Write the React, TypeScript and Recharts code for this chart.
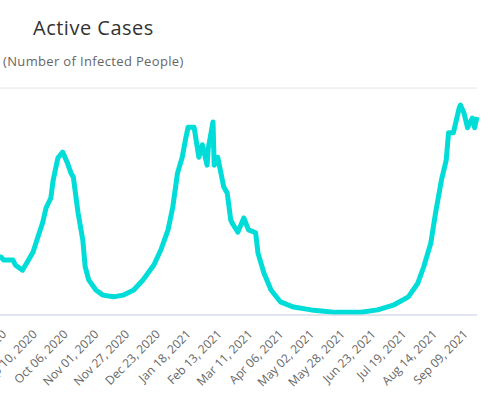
import { LineChart, Line, XAxis, YAxis, CartesianGrid } from "recharts";

const dates = [
  "2020-07-24", "2020-08-01", "2020-08-10", "2020-08-12", "2020-08-20", "2020-08-22", "2020-08-28",
  "2020-09-01", "2020-09-06", "2020-09-10", "2020-09-14", "2020-09-17", "2020-09-21", "2020-09-23",
  "2020-09-27", "2020-10-01", "2020-10-05", "2020-10-08", "2020-10-10", "2020-10-14", "2020-10-18",
  "2020-10-20", "2020-10-23", "2020-10-29", "2020-11-04", "2020-11-13", "2020-11-21", "2020-11-30",
  "2020-12-08", "2020-12-17", "2020-12-23", "2020-12-29", "2021-01-02", "2021-01-06", "2021-01-10",
  "2021-01-13", "2021-01-15", "2021-01-20", "2021-01-24", "2021-01-27", "2021-01-31", "2021-02-01",
  "2021-02-05", "2021-02-06", "2021-02-09", "2021-02-14", "2021-02-17", "2021-02-20", "2021-02-22",
  "2021-02-26", "2021-03-03", "2021-03-07", "2021-03-13", "2021-03-15", "2021-03-20", "2021-03-26",
  "2021-04-03", "2021-04-14", "2021-04-29", "2021-05-18", "2021-06-10", "2021-06-24", "2021-07-08",
  "2021-07-20", "2021-07-28", "2021-08-02", "2021-08-08", "2021-08-12", "2021-08-17", "2021-08-21",
  "2021-08-23", "2021-08-27", "2021-09-01", "2021-09-02", "2021-09-05", "2021-09-08", "2021-09-12",
  "2021-09-14", "2021-09-16",
];

const activeCases = [
  10500, 10600, 10200, 9700, 9700, 8800, 7900,
  9300, 11100, 13700, 16200, 18900, 20600, 23800,
  27700, 28700, 26800, 25000, 24300, 18000, 13200,
  8500, 6200, 4400, 3500, 3200, 3500, 4400,
  6200, 8800, 11500, 15000, 19000, 25000, 27800,
  31200, 33100, 33100, 27800, 30000, 26400, 29400,
  34000, 26400, 27800, 22600, 21500, 16700, 15900,
  14600, 17100, 15000, 14500, 10900, 7400, 4400,
  2300, 1400, 900, 500, 500, 900, 1800,
  3200, 5600, 8500, 12700, 18000, 23800, 27300,
  32100, 32100, 36500, 37000, 35600, 33000, 34700,
  33000, 34900,
];

const tickDates = [
  "2020-08-15", "2020-09-10", "2020-10-06", "2020-11-01", "2020-11-27", "2020-12-23",
  "2021-01-18", "2021-02-13", "2021-03-11", "2021-04-06", "2021-05-02", "2021-05-28",
  "2021-06-23", "2021-07-19", "2021-08-14", "2021-09-09",
];

const yTicks = [0, 10000, 20000, 30000, 40000];

const months = ["Jan", "Feb", "Mar", "Apr", "May", "Jun", "Jul", "Aug", "Sep", "Oct", "Nov", "Dec"];

const toTime = (s: string) => Date.parse(s + "T00:00:00Z");

const formatDate = (t: number) => {
  const d = new Date(t);
  const day = String(d.getUTCDate()).padStart(2, "0");
  return `${months[d.getUTCMonth()]} ${day}, ${d.getUTCFullYear()}`;
};

const data = dates.map((d, i) => ({ t: toTime(d), cases: activeCases[i] }));

const FONT = "'Open Sans', sans-serif";

function DateTick(props: any) {
  const { x, y, payload } = props;
  const ty = y + 12;
  return (
    <text
      x={x}
      y={ty}
      transform={`rotate(-45 ${x} ${ty})`}
      textAnchor="end"
      fill="#666666"
      fontSize={12}
      fontFamily={FONT}
    >
      {formatDate(payload.value)}
    </text>
  );
}

export default function App() {
  return (
    <div
      style={{
        position: "absolute",
        left: 0,
        top: 0,
        width: 500,
        height: 398,
        overflow: "hidden",
        background: "#fff",
        fontFamily: FONT,
      }}
    >
      <div
        style={{
          position: "absolute",
          left: 33,
          top: 18,
          fontSize: 20,
          lineHeight: "20px",
          letterSpacing: 0.5,
          color: "#333333",
          whiteSpace: "nowrap",
        }}
      >
        Active Cases
      </div>
      <div
        style={{
          position: "absolute",
          left: 3,
          top: 55,
          fontSize: 13,
          lineHeight: "13px",
          letterSpacing: 0.35,
          color: "#666666",
          whiteSpace: "nowrap",
        }}
      >
        (Number of Infected People)
      </div>
      <div style={{ position: "absolute", left: -80, top: 0 }}>
        <LineChart
          width={580}
          height={398}
          data={data}
          margin={{ top: 88, right: 23, bottom: 3, left: 0 }}
        >
          <CartesianGrid vertical={false} stroke="#e6e6e6" />
          <XAxis
            dataKey="t"
            type="number"
            scale="time"
            domain={["dataMin", "dataMax"]}
            ticks={tickDates.map(toTime)}
            tick={<DateTick />}
            tickLine={false}
            axisLine={{ stroke: "#ccd6eb" }}
            height={80}
            interval={0}
          />
          <YAxis
            type="number"
            domain={[0, 40000]}
            ticks={yTicks}
            width={61}
            axisLine={false}
            tickLine={false}
            tick={false}
          />
          <Line
            type="linear"
            dataKey="cases"
            stroke="#00ddd8"
            strokeWidth={5}
            strokeLinejoin="round"
            dot={false}
            activeDot={false}
            isAnimationActive={false}
          />
        </LineChart>
      </div>
    </div>
  );
}
